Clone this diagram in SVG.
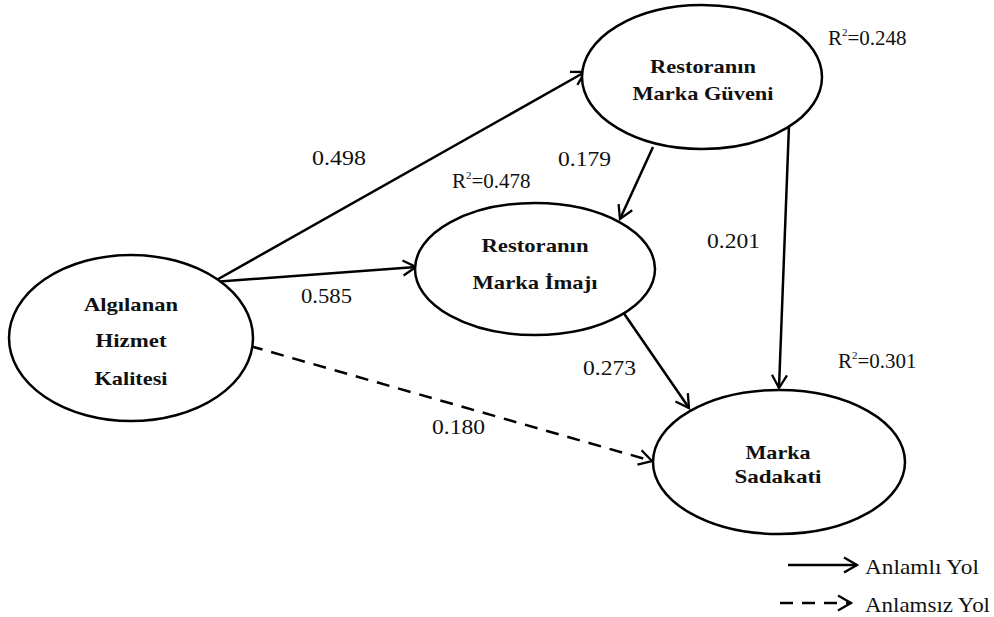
<svg xmlns="http://www.w3.org/2000/svg" width="994" height="617" viewBox="0 0 994 617">
<style>
.node ellipse{fill:#fff;stroke:#000;stroke-width:2.5}
.nt{font-weight:bold;font-size:19px;fill:#111;text-anchor:middle}
.lbl{font-size:21px;fill:#111}
.edge{fill:none;stroke:#000;stroke-width:2.5}
.dash{stroke-dasharray:13 9}
</style>
<defs>
<marker id="ah" markerWidth="18" markerHeight="18" refX="15" refY="9" orient="auto" markerUnits="userSpaceOnUse" overflow="visible">
<path d="M2,1.5 L15,9 L2,16.5" fill="none" stroke="#000" stroke-width="2.3"/>
</marker>
</defs>
<g id="connectors">
<line class="edge" x1="213" y1="282" x2="585" y2="72" marker-end="url(#ah)"/>
<line class="edge" x1="213" y1="282" x2="416" y2="267" marker-end="url(#ah)"/>
<line class="edge" x1="653" y1="147" x2="620" y2="219" marker-end="url(#ah)"/>
<line class="edge" x1="789" y1="125" x2="779" y2="388" marker-end="url(#ah)"/>
<line class="edge" x1="623" y1="312" x2="689" y2="408" marker-end="url(#ah)"/>
<line class="edge dash" x1="250" y1="346" x2="652" y2="461" marker-end="url(#ah)"/>
<line class="edge" x1="788" y1="565" x2="857" y2="565" marker-end="url(#ah)"/>
<line class="edge dash" x1="780" y1="603" x2="851" y2="603" marker-end="url(#ah)"/>
</g>
<g font-family="Liberation Serif, Times New Roman, serif">
<g id="n-algilanan" class="node">
<ellipse cx="131" cy="338" rx="122" ry="83"/>
<text class="nt" x="131" y="311" textLength="94" lengthAdjust="spacingAndGlyphs">Algılanan</text>
<text class="nt" x="131" y="347" textLength="71" lengthAdjust="spacingAndGlyphs">Hizmet</text>
<text class="nt" x="131" y="385" textLength="73" lengthAdjust="spacingAndGlyphs">Kalitesi</text>
</g>
<g id="n-guven" class="node">
<ellipse cx="702" cy="77" rx="120" ry="72"/>
<text class="nt" x="703" y="73" textLength="106" lengthAdjust="spacingAndGlyphs">Restoranın</text>
<text class="nt" x="703" y="100" textLength="141" lengthAdjust="spacingAndGlyphs">Marka Güveni</text>
</g>
<g id="n-imaj" class="node">
<ellipse cx="535" cy="269" rx="120" ry="66"/>
<text class="nt" x="535" y="252" textLength="107" lengthAdjust="spacingAndGlyphs">Restoranın</text>
<text class="nt" x="535" y="289" textLength="125" lengthAdjust="spacingAndGlyphs">Marka İmajı</text>
</g>
<g id="n-sadakat" class="node">
<ellipse cx="779" cy="462" rx="126" ry="72"/>
<text class="nt" x="778" y="459" textLength="65" lengthAdjust="spacingAndGlyphs">Marka</text>
<text class="nt" x="778" y="483" textLength="87" lengthAdjust="spacingAndGlyphs">Sadakati</text>
</g>
<g id="labels">
<text class="lbl" x="312" y="165" textLength="54" lengthAdjust="spacingAndGlyphs">0.498</text>
<text class="lbl" x="301" y="303" textLength="51" lengthAdjust="spacingAndGlyphs">0.585</text>
<text class="lbl" x="558" y="166" textLength="53" lengthAdjust="spacingAndGlyphs">0.179</text>
<text class="lbl" x="707" y="248" textLength="53" lengthAdjust="spacingAndGlyphs">0.201</text>
<text class="lbl" x="583" y="375" textLength="53" lengthAdjust="spacingAndGlyphs">0.273</text>
<text class="lbl" x="432" y="434" textLength="53" lengthAdjust="spacingAndGlyphs">0.180</text>
<text class="lbl" x="452" y="188">R<tspan dy="-9" font-size="11">2</tspan><tspan dy="9">=0.478</tspan></text>
<text class="lbl" x="828" y="45">R<tspan dy="-9" font-size="11">2</tspan><tspan dy="9">=0.248</tspan></text>
<text class="lbl" x="838" y="368">R<tspan dy="-9" font-size="11">2</tspan><tspan dy="9">=0.301</tspan></text>
<text class="lbl" x="865" y="574" font-size="19" textLength="114" lengthAdjust="spacingAndGlyphs">Anlamlı Yol</text>
<text class="lbl" x="865" y="612" font-size="19" textLength="125" lengthAdjust="spacingAndGlyphs">Anlamsız Yol</text>
</g>
</g>
</svg>
